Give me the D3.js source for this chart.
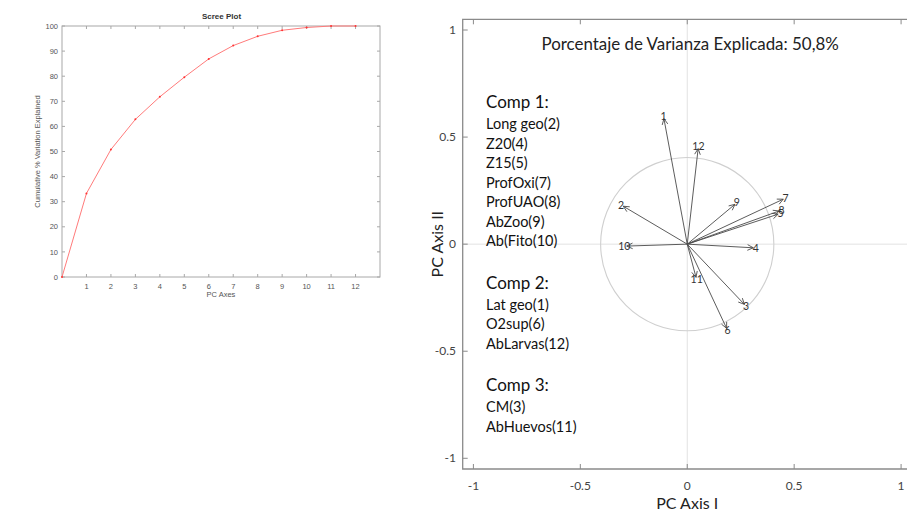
<!DOCTYPE html>
<html>
<head>
<meta charset="utf-8">
<script src="https://cdn.jsdelivr.net/npm/d3@7"></script>
<style>
  html, body { margin: 0; padding: 0; background: #fff; }
  svg { display: block; }
</style>
</head>
<body>
<svg id="chart" width="907" height="518"></svg>
<script>
// ---- Scree plot data ----
const screeAxes = [0, 1, 2, 3, 4, 5, 6, 7, 8, 9, 10, 11, 12];
const screeCumulative = [0, 33.3, 50.8, 62.8, 71.8, 79.6, 86.9, 92.2, 95.9, 98.3, 99.4, 100, 100];
const screeXTicks = [1, 2, 3, 4, 5, 6, 7, 8, 9, 10, 11, 12];
const screeYTicks = [0, 10, 20, 30, 40, 50, 60, 70, 80, 90, 100];

// ---- Biplot data (loadings on PC I and PC II) ----
const varLabels = ["1", "2", "3", "4", "5", "6", "7", "8", "9", "10", "11", "12"];
const loadPC1 = [-0.109, -0.299, 0.267, 0.309, 0.425, 0.184, 0.449, 0.430, 0.223, -0.283, 0.041, 0.051];
const loadPC2 = [0.586, 0.177, -0.281, -0.017, 0.140, -0.393, 0.210, 0.155, 0.186, -0.009, -0.155, 0.446];
const circleRadius = 0.405;
const biplotTicks = [-1, -0.5, 0, 0.5, 1];
const biplotTickLabels = ["-1", "-0.5", "0", "0.5", "1"];
const varianceTitle = "Porcentaje de Varianza Explicada: 50,8%";

const comp1Title = "Comp 1:";
const comp1Vars = ["Long geo(2)", "Z20(4)", "Z15(5)", "ProfOxi(7)", "ProfUAO(8)", "AbZoo(9)", "Ab(Fito(10)"];
const comp2Title = "Comp 2:";
const comp2Vars = ["Lat geo(1)", "O2sup(6)", "AbLarvas(12)"];
const comp3Title = "Comp 3:";
const comp3Vars = ["CM(3)", "AbHuevos(11)"];

const svg = d3.select("#chart");

// =================== Scree plot ===================
(function drawScree() {
  const left = 62, right = 380, top = 26, bottom = 277;
  const sf = "'Liberation Sans', Arial, sans-serif";
  const axisCol = "#a8a8a8";
  const textCol = "#555";

  const x = d3.scaleLinear().domain([0, 13]).range([left, right]);
  const y = d3.scaleLinear().domain([0, 100]).range([bottom, top]);
  const g = svg.append("g");

  // frame
  g.append("rect").attr("x", left).attr("y", top).attr("width", right - left).attr("height", bottom - top)
    .attr("fill", "#fff").attr("stroke", axisCol).attr("stroke-width", 1);

  const tl = 3;
  // x ticks (bottom + top, pointing inward)
  const xt = g.append("g");
  screeXTicks.forEach(t => {
    xt.append("line").attr("x1", x(t)).attr("x2", x(t)).attr("y1", bottom).attr("y2", bottom - tl).attr("stroke", axisCol);
    xt.append("line").attr("x1", x(t)).attr("x2", x(t)).attr("y1", top).attr("y2", top + tl).attr("stroke", axisCol);
    xt.append("text").attr("x", x(t)).attr("y", bottom + 11.5).attr("text-anchor", "middle")
      .attr("font-family", sf).attr("font-size", 7.5).attr("fill", textCol).text(t);
  });
  // y ticks (left + right, pointing inward)
  screeYTicks.forEach(t => {
    xt.append("line").attr("x1", left).attr("x2", left + tl).attr("y1", y(t)).attr("y2", y(t)).attr("stroke", axisCol);
    xt.append("line").attr("x1", right).attr("x2", right - tl).attr("y1", y(t)).attr("y2", y(t)).attr("stroke", axisCol);
    xt.append("text").attr("x", left - 4).attr("y", y(t) + 2.6).attr("text-anchor", "end")
      .attr("font-family", sf).attr("font-size", 7.5).attr("fill", textCol).text(t);
  });

  // curve
  const pts = screeAxes.map((a, i) => [a, screeCumulative[i]]);
  g.append("path").datum(pts)
    .attr("d", d3.line().x(d => x(d[0])).y(d => y(d[1])))
    .attr("fill", "none").attr("stroke", "#ff7b7b").attr("stroke-width", 1);
  g.selectAll("circle.pt").data(pts).join("circle").attr("class", "pt")
    .attr("cx", d => x(d[0])).attr("cy", d => y(d[1])).attr("r", 1)
    .attr("fill", "#f33");

  // titles
  g.append("text").attr("x", (left + right) / 2 + 0.5).attr("y", 19).attr("text-anchor", "middle")
    .attr("font-family", sf).attr("font-weight", "bold").attr("font-size", 8).attr("fill", "#333").text("Scree Plot");
  g.append("text").attr("x", (left + right) / 2).attr("y", 297).attr("text-anchor", "middle")
    .attr("font-family", sf).attr("font-size", 7.5).attr("fill", textCol).text("PC Axes");
  g.append("text").attr("transform", `translate(40,${(top + bottom) / 2}) rotate(-90)`)
    .attr("text-anchor", "middle")
    .attr("font-family", sf).attr("font-size", 7.5).attr("fill", textCol).text("Cumulative % Variation Explained");
})();

// =================== PCA biplot ===================
(function drawBiplot() {
  const left = 462.7, top = 19.3, bottom = 469;
  const x = d3.scaleLinear().domain([-1.05, 1.05]).range([left, left + 2.1 * 213.85]);
  const y = d3.scaleLinear().domain([-1.05, 1.05]).range([bottom, top]);
  const bf = "Lato, 'Open Sans', sans-serif";
  const axisCol = "#8a8a8a";
  const g = svg.append("g");
  const rightEdge = x(1.05);

  // zero reference lines
  g.append("line").attr("x1", x(0)).attr("x2", x(0)).attr("y1", top).attr("y2", bottom)
    .attr("stroke", "#e2e2e2").attr("stroke-width", 1);
  g.append("line").attr("x1", left).attr("x2", rightEdge).attr("y1", y(0)).attr("y2", y(0))
    .attr("stroke", "#e2e2e2").attr("stroke-width", 1);

  // correlation circle
  g.append("circle").attr("cx", x(0)).attr("cy", y(0))
    .attr("r", x(circleRadius) - x(0))
    .attr("fill", "none").attr("stroke", "#cfcfcf").attr("stroke-width", 1.1);

  // frame (left, top, bottom)
  g.append("path").attr("d", `M${rightEdge},${top}H${left}V${bottom}H${rightEdge}`)
    .attr("fill", "none").attr("stroke", axisCol).attr("stroke-width", 1.3);

  const tl = 5;
  biplotTicks.forEach((t, i) => {
    g.append("line").attr("x1", x(t)).attr("x2", x(t)).attr("y1", bottom).attr("y2", bottom - tl).attr("stroke", axisCol);
    g.append("line").attr("x1", x(t)).attr("x2", x(t)).attr("y1", top).attr("y2", top + tl).attr("stroke", axisCol);
    g.append("line").attr("x1", left).attr("x2", left + tl).attr("y1", y(t)).attr("y2", y(t)).attr("stroke", axisCol);
    g.append("text").attr("x", x(t)).attr("y", 490).attr("text-anchor", "middle")
      .attr("font-family", bf).attr("font-size", 12).attr("fill", "#444").text(biplotTickLabels[i]);
    g.append("text").attr("x", 456).attr("y", y(t) + 4.2).attr("text-anchor", "end")
      .attr("font-family", bf).attr("font-size", 12).attr("fill", "#444").text(biplotTickLabels[i]);
  });

  g.append("text").attr("x", x(0)).attr("y", 509).attr("text-anchor", "middle")
    .attr("font-family", bf).attr("font-size", 16).attr("fill", "#222").text("PC Axis I");
  g.append("text").attr("transform", `translate(443,${y(0)}) rotate(-90)`).attr("text-anchor", "middle")
    .attr("font-family", bf).attr("font-size", 16).attr("fill", "#222").text("PC Axis II");

  g.append("text").attr("x", 541.5).attr("y", 50).attr("font-family", bf).attr("font-size", 16.9)
    .attr("fill", "#222").text(varianceTitle);

  // loading vectors
  const vec = varLabels.map((lab, i) => ({ lab, px: x(loadPC1[i]), py: y(loadPC2[i]) }));
  const ox = x(0), oy = y(0);
  const ah = 6.5, ang = Math.PI / 7;
  const vg = g.append("g").attr("stroke", "#4a4a4a").attr("stroke-width", 0.9).attr("fill", "none");
  vec.forEach(v => {
    const a = Math.atan2(v.py - oy, v.px - ox);
    vg.append("line").attr("x1", ox).attr("y1", oy).attr("x2", v.px).attr("y2", v.py);
    vg.append("path").attr("d",
      `M${v.px - ah * Math.cos(a - ang)},${v.py - ah * Math.sin(a - ang)}L${v.px},${v.py}` +
      `L${v.px - ah * Math.cos(a + ang)},${v.py - ah * Math.sin(a + ang)}`);
  });
  vec.forEach(v => {
    const a = Math.atan2(v.py - oy, v.px - ox);
    g.append("text").attr("x", v.px + 2.5 * Math.cos(a)).attr("y", v.py + 2.5 * Math.sin(a) + 3.6)
      .attr("text-anchor", "middle").attr("font-family", bf).attr("font-size", 10.5)
      .attr("fill", "#333").text(v.lab);
  });

  // component membership list
  const tx = 486, headSize = 17, itemSize = 14.5, lineH = 19.5, headGap = 21, groupGap = 42.5;
  let by = 108.3;
  [[comp1Title, comp1Vars], [comp2Title, comp2Vars], [comp3Title, comp3Vars]].forEach(([title, items], gi) => {
    if (gi > 0) by += groupGap;
    g.append("text").attr("x", tx).attr("y", by).attr("font-family", bf).attr("font-size", headSize)
      .attr("fill", "#111").text(title);
    by += headGap;
    items.forEach((it, k) => {
      if (k > 0) by += lineH;
      g.append("text").attr("x", tx).attr("y", by).attr("font-family", bf).attr("font-size", itemSize)
        .attr("fill", "#111").text(it);
    });
  });
})();
</script>
</body>
</html>
